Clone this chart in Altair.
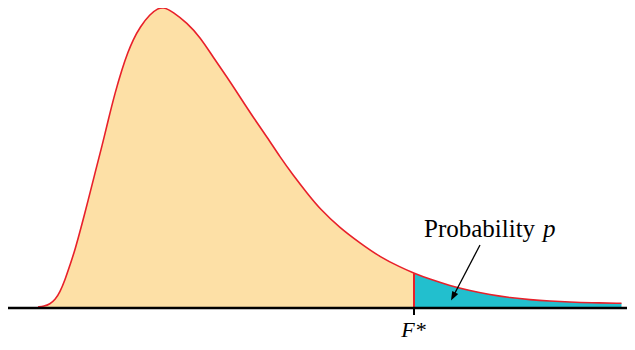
import altair as alt
import pandas as pd

# F-distribution density (arbitrary units)
f_vals = [0.00, 0.12, 0.24, 0.34, 0.44, 0.54, 0.64, 0.74, 0.88, 1.00, 1.14, 1.28, 1.40,
          1.54, 1.68, 1.80, 1.90, 2.04, 2.24, 2.40, 2.50, 2.70, 2.98, 3.24, 3.50, 3.78,
          4.04, 4.30, 4.58, 4.84, 5.10, 5.38, 5.64, 6.04, 6.44, 6.84, 7.24, 7.52, 7.84,
          8.24, 8.64, 9.04, 9.44, 9.84, 10.24, 10.64, 11.04, 11.67]
dens = [0.0000, 0.0014, 0.0060, 0.0140, 0.0300, 0.0540, 0.0840, 0.1140, 0.1660, 0.2120,
        0.2680, 0.3220, 0.3720, 0.4280, 0.4760, 0.5100, 0.5340, 0.5600, 0.5860, 0.5970,
        0.6000, 0.5906, 0.5680, 0.5400, 0.5000, 0.4600, 0.4200, 0.3800, 0.3400, 0.3000,
        0.2640, 0.2280, 0.1960, 0.1580, 0.1280, 0.1000, 0.0800, 0.0674, 0.0554, 0.0426,
        0.0326, 0.0246, 0.0186, 0.0146, 0.0120, 0.0100, 0.0086, 0.0074]
F_STAR = 7.52
F_STAR_DENS = 0.0674
X_DOMAIN = [-0.6, 11.78]
Y_DOMAIN = [-0.07, 0.598]
label_text = "Probability"
label_italic = "p"
star_label = "F*"

ORANGE = "#FDE0A6"
CYAN = "#22BFCE"
RED = "#E8202A"

df = pd.DataFrame({"F": f_vals, "d": dens})
left = df[df.F <= F_STAR]
right = df[df.F >= F_STAR]

xs = alt.Scale(domain=X_DOMAIN, nice=False, zero=False)
ys = alt.Scale(domain=Y_DOMAIN, nice=False, zero=False)


def X(f="F"):
    return alt.X(f"{f}:Q", scale=xs, axis=None)


def Y(f="d"):
    return alt.Y(f"{f}:Q", scale=ys, axis=None)


area_left = alt.Chart(left).mark_area(color=ORANGE, interpolate="basis").encode(x=X(), y=Y())
area_right = alt.Chart(right).mark_area(color=CYAN, interpolate="basis").encode(x=X(), y=Y())
curve = alt.Chart(df).mark_line(color=RED, strokeWidth=1.6, interpolate="basis").encode(x=X(), y=Y())

vline = alt.Chart(pd.DataFrame({"F": [F_STAR], "d0": [0.0], "d1": [F_STAR_DENS]})).mark_rule(
    color=RED, strokeWidth=2).encode(x=X(), y=Y("d0"), y2="d1:Q")

baseline = alt.Chart(pd.DataFrame({"F0": [X_DOMAIN[0]], "F1": [X_DOMAIN[1]], "d": [-0.002]})).mark_rule(
    color="black", strokeWidth=2.5).encode(x=X("F0"), x2="F1:Q", y=Y())

tick = alt.Chart(pd.DataFrame({"F": [F_STAR], "d0": [0.0], "d1": [-0.016]})).mark_rule(
    color="black", strokeWidth=2).encode(x=X(), y=Y("d0"), y2="d1:Q")

star = alt.Chart(pd.DataFrame({"F": [F_STAR - 0.01], "d": [-0.060], "t": [star_label]})).mark_text(
    font="Liberation Serif", fontSize=22, fontStyle="italic", align="center", baseline="alphabetic",
    color="black").encode(x=X(), y=Y(), text="t:N")

prob = alt.Chart(pd.DataFrame({"F": [7.72], "d": [0.1406], "t": [label_text]})).mark_text(
    font="Liberation Serif", fontSize=25, align="left", baseline="alphabetic",
    color="black").encode(x=X(), y=Y(), text="t:N")
prob_p = alt.Chart(pd.DataFrame({"F": [10.10], "d": [0.1406], "t": [label_italic]})).mark_text(
    font="Liberation Serif", fontSize=25, fontStyle="italic", align="left", baseline="alphabetic",
    color="black").encode(x=X(), y=Y(), text="t:N")

arrow_line = alt.Chart(pd.DataFrame({"F0": [8.84], "d0": [0.124], "F1": [8.302], "d1": [0.021]})).mark_rule(
    color="black", strokeWidth=1.3).encode(x=X("F0"), y=Y("d0"), x2="F1:Q", y2="d1:Q")
arrow_head = alt.Chart(pd.DataFrame({"F": [8.302], "d": [0.021]})).mark_point(
    shape="M0,-1L0.75,1L-0.75,1Z", size=81, filled=True, color="black", opacity=1, angle=208).encode(
    x=X(), y=Y())

chart = alt.layer(area_left, area_right, curve, vline, baseline, tick, star, prob, prob_p,
                  arrow_line, arrow_head).properties(
    width=619, height=334, autosize=alt.AutoSizeParams(type="none"), padding=0,
    background="white").configure_view(stroke=None)

chart.save("out.html", embed_options={"renderer": "svg", "actions": False})
